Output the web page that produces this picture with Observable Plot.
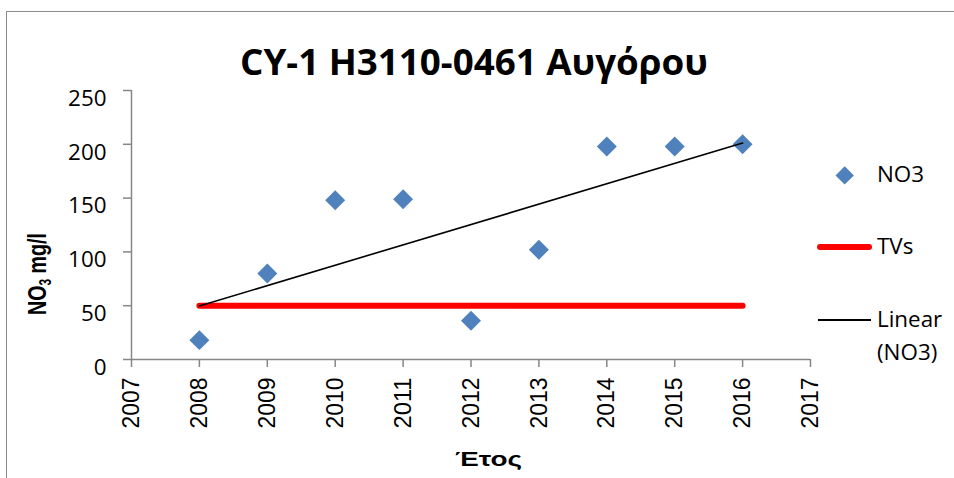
<!DOCTYPE html>
<html>
<head>
<meta charset="utf-8">
<script src="https://cdn.jsdelivr.net/npm/d3@7"></script>
<script src="https://cdn.jsdelivr.net/npm/@observablehq/plot@0.6"></script>
<style>
  html, body { margin: 0; padding: 0; background: #fff; }
  #wrap { position: relative; width: 954px; height: 478px; overflow: hidden; background: #fff; }
  #wrap svg { position: absolute; left: 0; top: 0; }
  .ov { position: absolute; white-space: nowrap; line-height: 1; color: #000; z-index: 2; }
  #frame { position: absolute; left: 6px; top: 11px; width: 1000px; height: 600px;
           border-left: 1.5px solid #8c8c8c; border-top: 1.5px solid #8c8c8c; z-index: 1; }
</style>
</head>
<body>
<div id="wrap"><div id="frame"></div></div>
<script>
// ---- data ----
const years = [2008, 2009, 2010, 2011, 2012, 2013, 2014, 2015, 2016];
const no3   = [18, 80, 148, 149, 36, 102, 198, 198, 200];
const tvs   = [50, 50, 50, 50, 50, 50, 50, 50, 50];
const xTicks = [2007, 2008, 2009, 2010, 2011, 2012, 2013, 2014, 2015, 2016, 2017];
const yTicks = [0, 50, 100, 150, 200, 250];
const titleText = "CY-1 H3110-0461 Αυγόρου";
const xLabel = "Έτος";
const seriesNames = ["NO3", "TVs", "Linear", "(NO3)"];

const rows = years.map((year, i) => ({year, no3: no3[i], tv: tvs[i]}));
const axisGray = "#868686";

const chart = Plot.plot({
  width: 954,
  height: 478,
  marginLeft: 131,
  marginRight: 144,
  marginTop: 90,
  marginBottom: 119,
  style: {fontFamily: "'Open Sans'", fontSize: "22.4px", background: "transparent", overflow: "visible"},
  x: {domain: [2007, 2017]},
  y: {domain: [0, 250]},
  marks: [
    Plot.axisY({ticks: yTicks, tickSize: 8, tickPadding: 17, stroke: axisGray, strokeWidth: 1.5, fill: "black", label: null}),
    Plot.axisX({ticks: xTicks, tickFormat: d => String(d), tickRotate: -90, tickSize: 8, tickPadding: 10,
                stroke: axisGray, strokeWidth: 1.5, fill: "black", label: null}),
    Plot.ruleY([0], {stroke: axisGray, strokeWidth: 1.5}),
    Plot.ruleX([2007], {stroke: axisGray, strokeWidth: 1.5}),
    Plot.dot(rows, {x: "year", y: "no3", symbol: "diamond2", r: 9, fill: "#4F81BD", stroke: "none"}),
    Plot.line(rows, {x: "year", y: "tv", stroke: "#FF0000", strokeWidth: 6, strokeLinecap: "round"}),
    Plot.linearRegressionY(rows, {x: "year", y: "no3", stroke: "black", strokeWidth: 1.6, ci: 0})
  ]
});

const wrap = document.getElementById("wrap");
wrap.appendChild(chart);

// tick label fonts
d3.select(chart).selectAll('g[aria-label="x-axis tick label"] text')
  .attr("font-family", "'Liberation Sans'")
  .attr("font-size", 24)
  .attr("textLength", 51)
  .attr("lengthAdjust", "spacingAndGlyphs");
d3.select(chart).selectAll('g[aria-label="y-axis tick label"] text')
  .attr("font-family", "'Open Sans'")
  .attr("font-size", 22.4)
  .attr("dy", "0.36em");

// ---- overlay texts ----
function addText(html, opts) {
  const el = document.createElement("div");
  el.className = "ov";
  el.innerHTML = html;
  Object.assign(el.style, opts);
  wrap.appendChild(el);
  return el;
}
function fitX(el, target) {
  const w = el.getBoundingClientRect().width;
  el.style.transformOrigin = "left top";
  el.style.transform = `scaleX(${target / w})`;
}

// title
const t = addText(titleText, {left: "240px", top: (75 - 0.888 * 35) + "px", fontFamily: "'Open Sans'",
                              fontWeight: "700", fontSize: "35px"});
fitX(t, 468);

// x label
const xl = addText(xLabel, {left: "455px", top: (466 - 0.8465 * 20) + "px", fontFamily: "'Liberation Sans'",
                            fontWeight: "700", fontSize: "20px"});
fitX(xl, 67);

// y label (rotated)
const yl = addText('NO<span style="font-size:60%;position:relative;top:0.3em">3</span> mg/l',
                   {left: "0px", top: "0px", fontFamily: "'Liberation Sans'", fontWeight: "700", fontSize: "26px"});
{
  const r = yl.getBoundingClientRect();
  const cx = 37, cy = 274;
  yl.style.left = (cx - r.width / 2) + "px";
  yl.style.top = (cy - r.height / 2) + "px";
  yl.style.transformOrigin = "center center";
  yl.style.transform = `rotate(-90deg) scaleX(${82 / r.width})`;
}

// legend
const legFont = {fontFamily: "'Open Sans'", fontSize: "22.4px"};
const base = 0.888 * 22.4;
addText(seriesNames[0], {left: "877px", top: (183 - base) + "px", ...legFont});
addText(seriesNames[1], {left: "877px", top: (255 - base) + "px", ...legFont});
addText(seriesNames[2], {left: "877px", top: (328 - base) + "px", ...legFont});
addText(seriesNames[3], {left: "877px", top: (361 - base) + "px", ...legFont});

function addShape(style) {
  const el = document.createElement("div");
  el.style.position = "absolute";
  el.style.zIndex = 2;
  Object.assign(el.style, style);
  wrap.appendChild(el);
}
addShape({left: (845 - 6.7) + "px", top: (176 - 6.7) + "px", width: "13.4px", height: "13.4px",
          background: "#4F81BD", transform: "rotate(45deg)"});
addShape({left: "817px", top: "244px", width: "55px", height: "6px", background: "#FF0000", borderRadius: "3px"});
addShape({left: "818px", top: "319.2px", width: "53px", height: "1.6px", background: "#000"});
</script>
</body>
</html>
